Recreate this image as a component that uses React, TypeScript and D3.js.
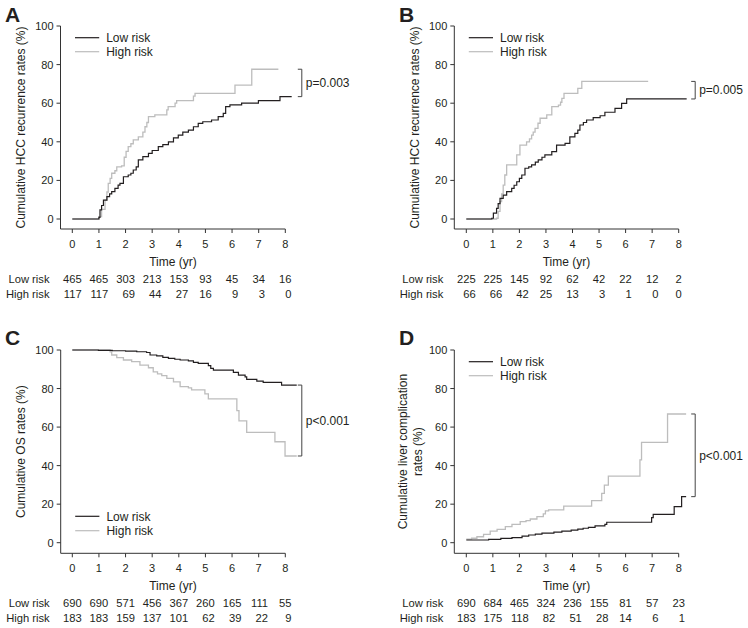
import React from 'react';
import * as d3 from 'd3';

type Pt = [number, number];

const timeTicks = [0, 1, 2, 3, 4, 5, 6, 7, 8];
const yTicks = [0, 20, 40, 60, 80, 100];
const seriesNames = ['Low risk', 'High risk'];

// Panel A: cumulative HCC recurrence (cohort 1)
const aLow: Pt[] = [[0,0],[1.0,0.8],[1.04,4.7],[1.1,7],[1.17,9.8],[1.3,11.6],[1.4,13],[1.48,14.2],[1.6,15.9],[1.72,17.6],[1.79,18.5],[1.92,21.9],[2.1,22.8],[2.2,23.7],[2.29,25.4],[2.4,27],[2.48,30.6],[2.65,32.3],[2.86,34],[3.0,35.5],[3.23,37.5],[3.4,38.5],[3.61,40],[3.8,42],[3.98,43.5],[4.15,45],[4.36,46.1],[4.55,47.8],[4.73,49.5],[4.9,50.4],[5.23,51.3],[5.48,53],[5.67,54.7],[5.76,58.2],[5.92,59.1],[6.36,60],[6.99,61.3],[7.8,63.4],[8.24,63.4]];
const aHigh: Pt[] = [[0,0],[1.0,1.2],[1.1,5],[1.23,9.8],[1.3,14],[1.35,18.5],[1.42,21],[1.48,23.7],[1.6,25],[1.67,27],[1.85,27.5],[1.95,32],[2.02,35],[2.1,37.5],[2.2,39],[2.29,41],[2.48,42.6],[2.65,45],[2.73,47.8],[2.8,50],[2.86,53],[3.1,53.9],[3.55,56.5],[3.6,58.2],[3.86,60],[3.92,61.3],[4.55,63.7],[4.61,65.1],[6.11,69.4],[6.74,77.6],[7.74,77.6]];
const aRiskLow = [465, 465, 303, 213, 153, 93, 45, 34, 16];
const aRiskHigh = [117, 117, 69, 44, 27, 16, 9, 3, 0];

// Panel B: cumulative HCC recurrence (cohort 2)
const bLow: Pt[] = [[0,0],[0.96,0.4],[1.02,3],[1.14,5.5],[1.2,8],[1.27,10.7],[1.39,12.4],[1.52,14.2],[1.71,15.9],[1.8,17.5],[1.9,19.3],[2.0,21],[2.09,22.8],[2.21,26.3],[2.35,27],[2.46,28],[2.6,29.5],[2.71,30.6],[2.85,32],[2.96,33.2],[3.22,34.9],[3.4,38.3],[3.72,39.2],[3.9,42.6],[4.09,44.4],[4.2,46],[4.28,48.7],[4.41,50],[4.53,51.3],[4.78,52.5],[5.04,53.5],[5.22,55.3],[5.6,57.3],[5.85,59.9],[6.04,62.2],[8.3,62.2]];
const bHigh: Pt[] = [[0,0],[1.14,0.4],[1.2,4],[1.27,9],[1.33,13],[1.39,17.6],[1.45,22.8],[1.52,28],[1.9,33.2],[2.02,38.3],[2.27,40],[2.38,41.5],[2.46,43.5],[2.52,45],[2.59,47],[2.7,49.6],[2.78,52.2],[3.03,53.9],[3.22,58.2],[3.47,59],[3.55,60.5],[3.6,62.5],[3.68,65.1],[4.2,67.7],[4.35,71.3],[6.85,71.3]];
const bRiskLow = [225, 225, 145, 92, 62, 42, 22, 12, 2];
const bRiskHigh = [66, 66, 42, 25, 13, 3, 1, 0, 0];

// Panel C: cumulative overall survival
const cLow: Pt[] = [[0,100],[0.98,99.8],[1.5,99.6],[2.0,99.4],[2.42,99.1],[2.79,98.7],[2.92,97.4],[3.17,96.9],[3.4,96.2],[3.61,95.7],[3.85,95.2],[4.05,94.8],[4.36,94.4],[4.55,93.6],[4.73,93.1],[5.11,91.9],[5.2,90.5],[5.3,89.6],[6.05,88.4],[6.24,87],[6.49,86.1],[6.55,84.8],[6.93,83.9],[7.17,83.2],[7.86,81.8],[8.43,81.8]];
const cHigh: Pt[] = [[0,100],[1.42,99],[1.48,97.4],[1.67,96],[1.92,94.8],[2.23,94],[2.54,92.2],[2.86,90.8],[3.04,88.7],[3.2,87.6],[3.36,86.7],[3.55,85.3],[3.8,83.5],[4.05,81],[4.36,80.3],[4.48,79.3],[4.98,77.2],[5.11,74.6],[6.18,68.5],[6.26,63.2],[6.55,57.3],[7.61,52.4],[7.99,45],[8.43,45]];
const cRiskLow = [690, 690, 571, 456, 367, 260, 165, 111, 55];
const cRiskHigh = [183, 183, 159, 137, 101, 62, 39, 22, 9];

// Panel D: cumulative liver complication
const dLow: Pt[] = [[0,1.4],[0.84,1.7],[1.3,2.2],[1.72,2.6],[2.1,3.4],[2.35,4],[2.6,4.5],[2.85,5],[3.3,5.5],[3.6,6],[3.95,6.5],[4.2,7],[4.4,7.5],[4.6,8],[4.85,8.7],[5.22,9.5],[5.29,10.6],[6.98,13],[7.04,14.7],[7.83,18.7],[8.11,23.9],[8.28,23.9]];
const dHigh: Pt[] = [[0,1.9],[0.2,2.3],[0.4,3.1],[0.65,4.3],[0.9,6],[1.16,6.9],[1.47,8.3],[1.72,9.5],[2.03,10.9],[2.25,11.5],[2.41,12.3],[2.66,13.5],[2.9,15],[2.98,16.5],[3.1,17],[3.67,19],[4.72,21.8],[5.1,25.6],[5.2,29.9],[5.35,34.6],[6.54,43],[6.6,52.1],[7.58,66.8],[8.28,66.8]];
const dRiskLow = [690, 684, 465, 324, 236, 155, 81, 57, 23];
const dRiskHigh = [183, 175, 118, 82, 51, 28, 14, 6, 1];

const FONT = '"Liberation Sans", Arial, Helvetica, sans-serif';
const TEXT = '#231f20';
const LOW_COLOR = '#231f20';
const HIGH_COLOR = '#bdbdbd';
const AXIS = '#333';

type Layout = {
  letterX: number; letterY: number;
  axisX: number; x0: number; x1: number;
  yTop: number; yZero: number; axisY: number;
  legendBottom: boolean;
};

type PanelProps = {
  letter: string;
  yLabel: string[];
  low: Pt[];
  high: Pt[];
  riskLow: number[];
  riskHigh: number[];
  pText: string;
  L: Layout;
};

function Panel({ letter, yLabel, low, high, riskLow, riskHigh, pText, L }: PanelProps) {
  const x = d3.scaleLinear().domain([0, 8]).range([L.x0, L.x1]);
  const y = d3.scaleLinear().domain([0, 100]).range([L.yZero, L.yTop]);
  const line = d3.line<Pt>().x(d => x(d[0])).y(d => y(d[1])).curve(d3.curveStepAfter);

  const tickFont = 11;
  const riskFont = 11.2;
  const digitW = 0.556 * riskFont;

  const legY = L.legendBottom ? [L.yZero - 26.4, L.yZero - 12] : [L.yTop + 11.7, L.yTop + 25.7];
  const legX0 = L.axisX + 14.5;
  const legX1 = L.axisX + 38.7;

  const lowEnd = low[low.length - 1][1];
  const highEnd = high[high.length - 1][1];
  const bx = L.x1 + 16.5;
  const by1 = y(Math.max(lowEnd, highEnd));
  const by2 = y(Math.min(lowEnd, highEnd));

  const yLabelMid = (L.yTop + L.axisY) / 2;
  const yLabelX = yLabel.length === 1 ? [L.axisX - 39.8] : [L.axisX - 52, L.axisX - 37];

  const riskLabelX = L.axisX - 11;
  const rowY = [L.axisY + 54, L.axisY + 68.5];

  return (
    <g>
      <text x={L.letterX} y={L.letterY} fontSize={21} fontWeight="bold" fill={TEXT}>{letter}</text>
      {/* axes */}
      <line x1={L.axisX} x2={L.axisX} y1={L.yTop} y2={L.axisY} stroke={AXIS} strokeWidth={1} />
      <line x1={L.axisX} x2={L.x1} y1={L.axisY} y2={L.axisY} stroke={AXIS} strokeWidth={1} />
      {yTicks.map(t => (
        <g key={'y' + t}>
          <line x1={L.axisX - 4} x2={L.axisX} y1={y(t)} y2={y(t)} stroke={AXIS} />
          <text x={L.axisX - 7} y={y(t)} dy="0.36em" textAnchor="end" fontSize={tickFont} fill={TEXT}>{t}</text>
        </g>
      ))}
      {timeTicks.map(t => (
        <g key={'x' + t}>
          <line x1={x(t)} x2={x(t)} y1={L.axisY} y2={L.axisY + 4} stroke={AXIS} />
          <text x={x(t)} y={L.axisY + 19} textAnchor="middle" fontSize={tickFont} fill={TEXT}>{t}</text>
        </g>
      ))}
      <text x={(L.axisX + L.x1) / 2} y={L.axisY + 37} textAnchor="middle" fontSize={12} fill={TEXT}>Time (yr)</text>
      {yLabel.map((s, i) => (
        <text key={s} transform={`translate(${yLabelX[i]},${yLabelMid}) rotate(-90)`} dy="0.36em" textAnchor="middle" fontSize={12} fill={TEXT}>{s}</text>
      ))}
      {/* curves */}
      <path d={line(high) || ''} fill="none" stroke={HIGH_COLOR} strokeWidth={1.3} />
      <path d={line(low) || ''} fill="none" stroke={LOW_COLOR} strokeWidth={1.2} />
      {/* legend */}
      {seriesNames.map((n, i) => (
        <g key={n}>
          <line x1={legX0} x2={legX1} y1={legY[i]} y2={legY[i]} stroke={i === 0 ? LOW_COLOR : HIGH_COLOR} strokeWidth={1.2} />
          <text x={legX1 + 7} y={legY[i]} dy="0.36em" fontSize={12} fill={TEXT}>{n}</text>
        </g>
      ))}
      {/* p-value bracket */}
      <path d={`M${bx - 4},${by1}H${bx}V${by2}H${bx - 4}`} fill="none" stroke="#444" strokeWidth={1} />
      <text x={bx + 4} y={(by1 + by2) / 2} dy="0.36em" fontSize={12} fill={TEXT}>{pText}</text>
      {/* number at risk */}
      {[riskLow, riskHigh].map((row, r) => (
        <g key={'r' + r}>
          <text x={riskLabelX} y={rowY[r]} textAnchor="end" fontSize={riskFont} fill={TEXT}>{seriesNames[r]}</text>
          {row.map((v, i) => {
            const maxLen = Math.max(String(riskLow[i]).length, String(riskHigh[i]).length);
            return (
              <text key={i} x={x(timeTicks[i]) + (maxLen * digitW) / 2} y={rowY[r]} textAnchor="end" fontSize={riskFont} fill={TEXT}>{v}</text>
            );
          })}
        </g>
      ))}
    </g>
  );
}

const layoutA: Layout = { letterX: 5, letterY: 22, axisX: 60.5, x0: 72.3, x1: 285.3, yTop: 26, yZero: 219, axisY: 229, legendBottom: false };
const layoutB: Layout = { letterX: 399, letterY: 22, axisX: 454.3, x0: 466.3, x1: 678.7, yTop: 26, yZero: 219, axisY: 229, legendBottom: false };
const layoutC: Layout = { letterX: 5, letterY: 344.5, axisX: 60.7, x0: 72.3, x1: 285.3, yTop: 350, yZero: 542.7, axisY: 553.3, legendBottom: true };
const layoutD: Layout = { letterX: 399, letterY: 344.5, axisX: 454.3, x0: 466.3, x1: 678.7, yTop: 350, yZero: 542.7, axisY: 553.3, legendBottom: false };

export default function App() {
  return (
    <svg width={748} height={628} style={{ position: 'absolute', left: 0, top: 0, background: '#fff' }} fontFamily={FONT}>
      <rect width={748} height={628} fill="#fff" />
      <Panel letter="A" yLabel={['Cumulative HCC recurrence rates (%)']} low={aLow} high={aHigh} riskLow={aRiskLow} riskHigh={aRiskHigh} pText="p=0.003" L={layoutA} />
      <Panel letter="B" yLabel={['Cumulative HCC recurrence rates (%)']} low={bLow} high={bHigh} riskLow={bRiskLow} riskHigh={bRiskHigh} pText="p=0.005" L={layoutB} />
      <Panel letter="C" yLabel={['Cumulative OS rates (%)']} low={cLow} high={cHigh} riskLow={cRiskLow} riskHigh={cRiskHigh} pText="p<0.001" L={layoutC} />
      <Panel letter="D" yLabel={['Cumulative liver complication', 'rates (%)']} low={dLow} high={dHigh} riskLow={dRiskLow} riskHigh={dRiskHigh} pText="p<0.001" L={layoutD} />
    </svg>
  );
}
